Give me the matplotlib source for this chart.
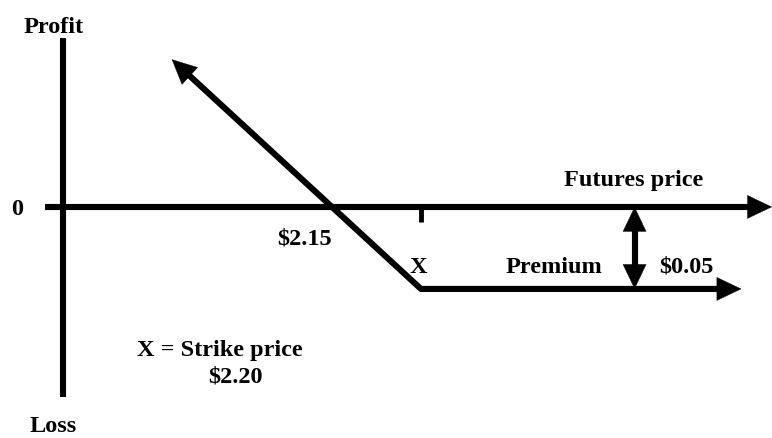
import matplotlib
matplotlib.use("Agg")
import matplotlib.pyplot as plt
import numpy as np

# ---- data ----
strike = 2.20
premium = 0.05
breakeven = 2.15
put_prices = [2.06, 2.20, 2.38]      # price points of the long put payoff line
put_profit = [0.09, -0.05, -0.05]    # profit at those prices
premium_arrow_x = 2.32

# ---- layout ----
W, H = 772, 439
XMIN, XMAX = 1.9635, 2.3972
YMIN, YMAX = -0.1409, 0.1268

def P(px):
    return XMIN + px / W * (XMAX - XMIN)

def V(py):
    return YMAX - py / H * (YMAX - YMIN)

fig = plt.figure(figsize=(W / 100, H / 100), dpi=100)
ax = fig.add_axes([0, 0, 1, 1])
ax.set_xlim(XMIN, XMAX)
ax.set_ylim(YMIN, YMAX)
ax.axis("off")

LW = 4.4
HEAD_L = 24   # px
HEAD_HW = 11.5  # px (half width)
font = dict(family="Liberation Serif", fontweight="bold", fontsize=17.5, color="black")


def head(tip, base):
    ax.annotate("", xy=tip, xytext=base,
                arrowprops=dict(arrowstyle=f"-|>,head_length={HEAD_L*0.72},head_width={HEAD_HW*0.72}",
                                mutation_scale=1, lw=0.3, color="black",
                                shrinkA=0, shrinkB=0),
                annotation_clip=False)


def arrowed_path(xs, ys, start_head=False, end_head=True):
    pts = ax.transData.transform(np.column_stack([xs, ys]))
    pts = pts.astype(float)
    inv = ax.transData.inverted()
    line_pts = pts.copy()
    if end_head:
        u = pts[-1] - pts[-2]
        u = u / np.hypot(*u)
        line_pts[-1] = pts[-1] - u * HEAD_L * 0.6
        head(tuple(inv.transform(pts[-1])), tuple(inv.transform(pts[-1] - u * HEAD_L)))
    if start_head:
        u = pts[0] - pts[1]
        u = u / np.hypot(*u)
        line_pts[0] = pts[0] - u * HEAD_L * 0.6
        head(tuple(inv.transform(pts[0])), tuple(inv.transform(pts[0] - u * HEAD_L)))
    d = inv.transform(line_pts)
    ax.plot(d[:, 0], d[:, 1], color="black", lw=LW,
            solid_capstyle="butt", solid_joinstyle="miter")


# vertical axis
ax.plot([P(63), P(63)], [V(39), V(398)], color="black", lw=LW, solid_capstyle="butt")
# horizontal axis with arrow
arrowed_path([P(45), P(772)], [0, 0])
# strike tick
ax.plot([strike, strike], [0, V(223)], color="black", lw=3.5, solid_capstyle="butt")

# payoff line: arrows at both ends
arrowed_path(put_prices, put_profit, start_head=True, end_head=True)

# premium double arrow
arrowed_path([premium_arrow_x, premium_arrow_x], [0, -premium], start_head=True, end_head=True)

# texts
ax.text(P(54), V(33), "Profit", ha="center", va="baseline", **font)
ax.text(P(17), V(215), "0", ha="center", va="baseline", **font)
ax.text(P(53), V(432), "Loss", ha="center", va="baseline", **font)
ax.text(P(305), V(244), f"${breakeven:.2f}", ha="center", va="baseline", **font)
ax.text(P(418), V(273), "X", ha="center", va="baseline", **font)
ax.text(P(554), V(273), "Premium", ha="center", va="baseline", **font)
ax.text(P(686), V(272), f"${premium:.2f}", ha="center", va="baseline", **font)
ax.text(P(634), V(186), "Futures price", ha="center", va="baseline", **font)
ax.text(P(220), V(356), "X = Strike price", ha="center", va="baseline", **font)
ax.text(P(235), V(382), f"${strike:.2f}", ha="center", va="baseline", **font)

fig.savefig("out.png", dpi=100)
